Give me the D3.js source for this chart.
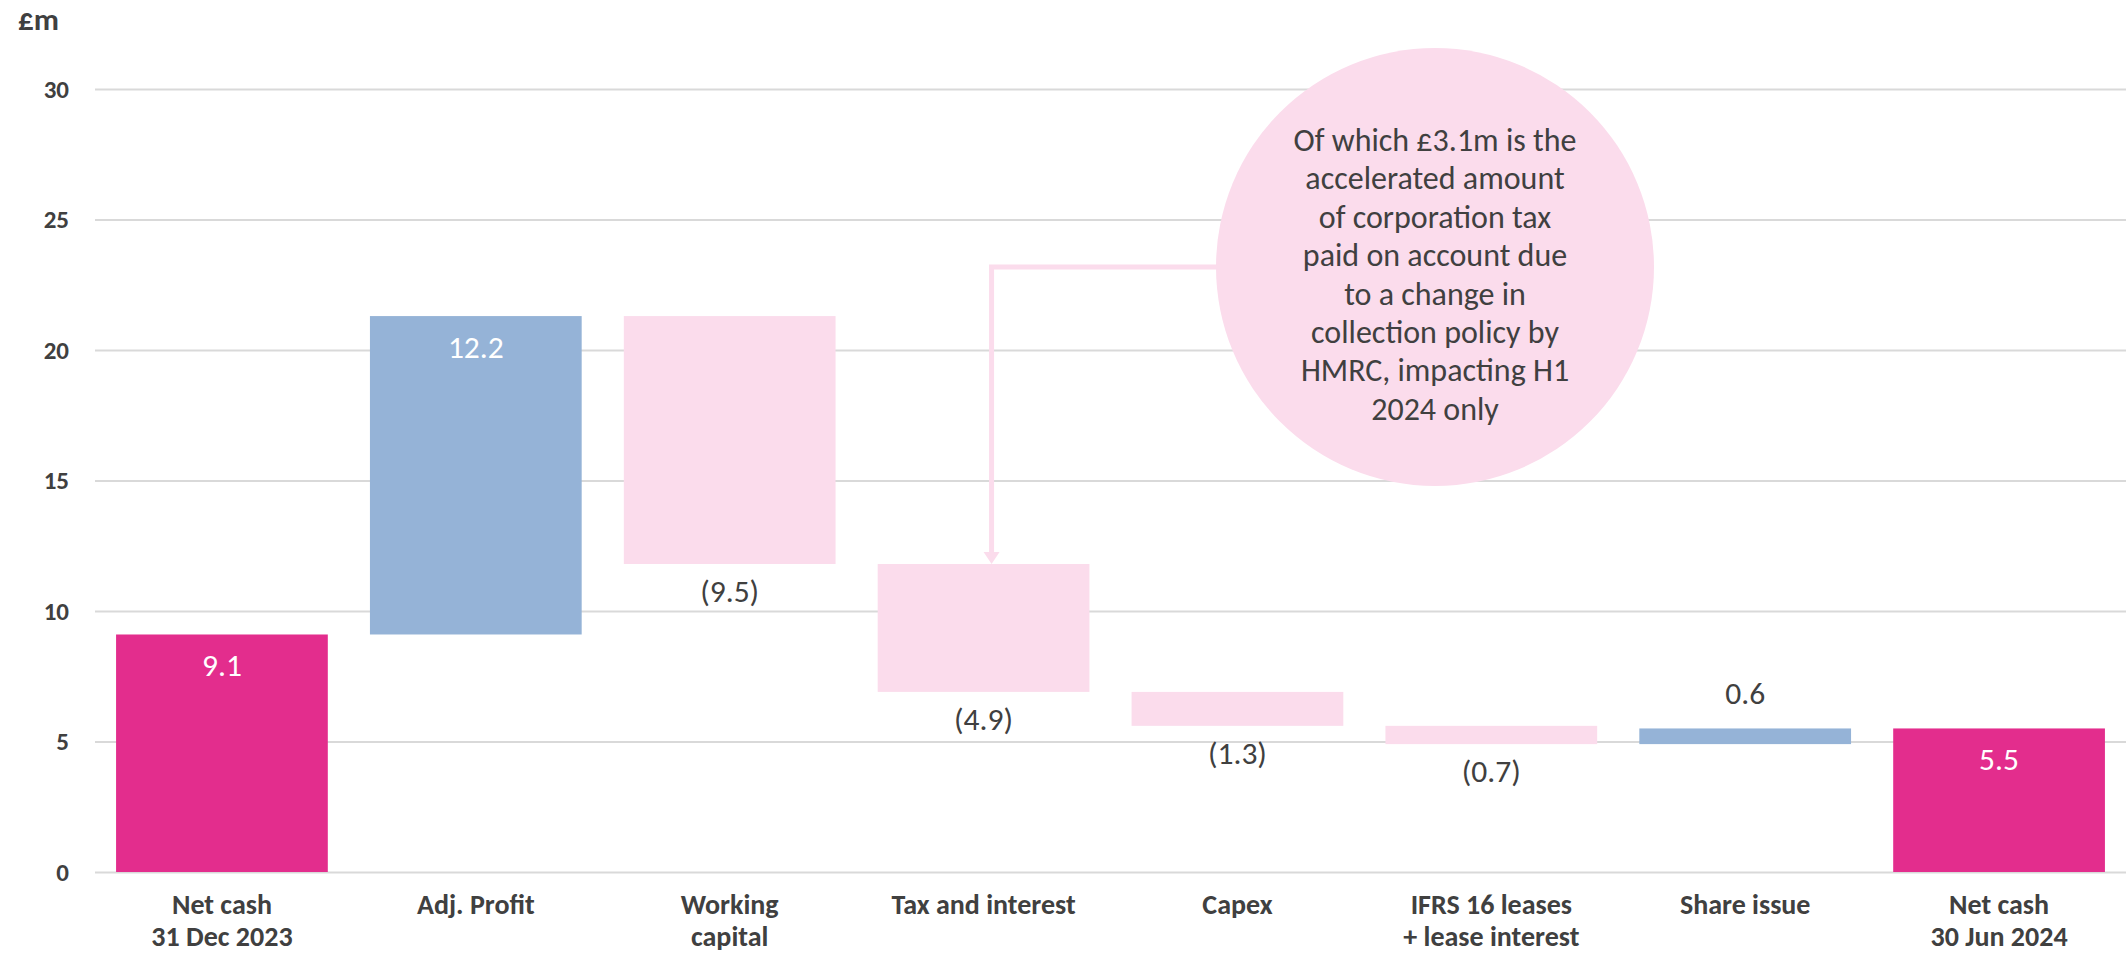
<!DOCTYPE html>
<html>
<head>
<meta charset="utf-8">
<script src="https://cdn.jsdelivr.net/npm/d3@7"></script>
<style>
  body { margin: 0; background: #fff; overflow: hidden; }
  text { font-family: Carlito, Calibri, Lato, sans-serif; }
</style>
</head>
<body>
<div class="chart"></div>
<script>
// categories (multi-line labels) and the waterfall steps
let categories = [
  ['Net cash', '31 Dec 2023'],
  ['Adj. Profit'],
  ['Working', 'capital'],
  ['Tax and interest'],
  ['Capex'],
  ['IFRS 16 leases', '+ lease interest'],
  ['Share issue'],
  ['Net cash', '30 Jun 2024']
];
let changes = [9.1, 12.2, -9.5, -4.9, -1.3, -0.7, 0.6, 5.5];
let kinds = ['total', 'up', 'down', 'down', 'down', 'down', 'up', 'total'];
let yTicks = [0, 5, 10, 15, 20, 25, 30];
let noteLines = [
  'Of which £3.1m is the',
  'accelerated amount',
  'of corporation tax',
  'paid on account due',
  'to a change in',
  'collection policy by',
  'HMRC, impacting H1',
  '2024 only'
];

let colors = { total: '#e32d8d', up: '#95b3d7', down: '#fbdcec' };
let textColor = '#404040';

let margin = { top: 89, right: 0, bottom: 84, left: 95 };
let width = 2126 - margin.left - margin.right;
let height = 956 - margin.top - margin.bottom;

let root = d3.select('.chart')
  .append('svg')
    .attr('width', width + margin.left + margin.right)
    .attr('height', height + margin.top + margin.bottom);

let svg = root.append('g')
    .attr('transform', `translate(${margin.left}, ${margin.top})`);

// build running start/end for each step
let running = 0;
let steps = changes.map((v, i) => {
  let lo, hi;
  if (kinds[i] === 'total') {
    lo = 0; hi = v; running = v;
  } else {
    let next = running + v;
    lo = Math.min(running, next); hi = Math.max(running, next);
    running = next;
  }
  return { key: categories[i].join(' '), lines: categories[i], value: v, kind: kinds[i], lo: lo, hi: hi };
});

let yScale = d3.scaleLinear()
  .domain([0, 30])
  .range([height, 0]);

let xScale = d3.scaleBand()
  .domain(steps.map(d => d.key))
  .range([0, width])
  .paddingInner(0.166)
  .paddingOuter(0.083);

// gridlines + y tick labels
let yAxis = d3.axisLeft(yScale)
  .tickValues(yTicks)
  .tickSize(-width)
  .tickPadding(26);

let gy = svg.append('g').call(yAxis);
gy.select('.domain').remove();
gy.selectAll('.tick line')
  .attr('stroke', '#d9d9d9')
  .attr('stroke-width', 2);
gy.selectAll('.tick text')
  .attr('fill', textColor)
  .style('font-size', '25px')
  .style('font-weight', 'bold');

root.append('text')
  .attr('x', 18)
  .attr('y', 30)
  .attr('fill', textColor)
  .style('font-size', '31px')
  .style('font-weight', 'bold')
  .text('£m');

// bars
svg.selectAll('.bar')
  .data(steps)
  .enter().append('rect')
    .attr('class', 'bar')
    .attr('x', d => xScale(d.key))
    .attr('width', xScale.bandwidth())
    .attr('y', d => yScale(d.hi))
    .attr('height', d => yScale(d.lo) - yScale(d.hi))
    .attr('fill', d => colors[d.kind]);

// value labels
let fmt = d3.format('.1f');
let inside = d => d.kind !== 'down' && (yScale(d.lo) - yScale(d.hi)) >= 60;

svg.selectAll('.val')
  .data(steps)
  .enter().append('text')
    .attr('class', 'val')
    .attr('text-anchor', 'middle')
    .attr('x', d => xScale(d.key) + xScale.bandwidth() / 2)
    .attr('y', d => {
      if (d.kind === 'down') return yScale(d.lo) + 38;
      return inside(d) ? yScale(d.hi) + 42 : yScale(d.hi) - 24;
    })
    .attr('fill', d => inside(d) ? '#fff' : textColor)
    .style('font-size', '31.5px')
    .text(d => d.value < 0 ? `(${fmt(-d.value)})` : fmt(d.value));

// category labels
let xl = svg.selectAll('.xlab')
  .data(steps)
  .enter().append('text')
    .attr('class', 'xlab')
    .attr('text-anchor', 'middle')
    .attr('fill', textColor)
    .style('font-size', '28px')
    .style('font-weight', 'bold')
    .attr('transform', d => `translate(${xScale(d.key) + xScale.bandwidth() / 2}, ${height + 42})`);

xl.selectAll('tspan')
  .data(d => d.lines)
  .enter().append('tspan')
    .attr('x', 0)
    .attr('y', (d, i) => i * 32)
    .text(d => d);

// callout bubble with connector to the tax bar
let note = { cx: 1435, cy: 267, r: 219 };
let pink = colors.down;
let taxStep = steps[3];
let arrowX = xScale(taxStep.key) + xScale.bandwidth() / 2 + 8 + margin.left;
let arrowTip = yScale(taxStep.hi) + margin.top;

root.append('path')
  .attr('d', `M${note.cx - note.r + 5},${note.cy} H${arrowX} V${arrowTip - 10}`)
  .attr('fill', 'none')
  .attr('stroke', pink)
  .attr('stroke-width', 5);

root.append('path')
  .attr('d', `M${arrowX - 8},${arrowTip - 12} L${arrowX + 8},${arrowTip - 12} L${arrowX},${arrowTip} Z`)
  .attr('fill', pink);

root.append('circle')
  .attr('cx', note.cx)
  .attr('cy', note.cy)
  .attr('r', note.r)
  .attr('fill', pink);

root.append('text')
  .attr('text-anchor', 'middle')
  .attr('fill', textColor)
  .style('font-size', '32px')
  .selectAll('tspan')
  .data(noteLines)
  .enter().append('tspan')
    .attr('x', note.cx)
    .attr('y', (d, i) => 151 + i * 38.4)
    .text(d => d);
</script>
</body>
</html>
